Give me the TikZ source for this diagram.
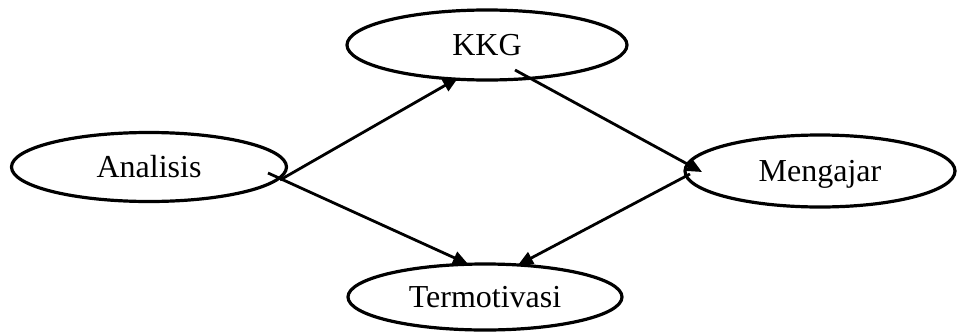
\documentclass[tikz,border=0pt]{standalone}
\usepackage{fontspec}
\setmainfont{Liberation Serif}
\usetikzlibrary{shapes.geometric,arrows.meta,calc}
\begin{document}
\begin{tikzpicture}[x=0.5pt,y=-0.5pt,
  ell/.style={draw, ellipse, line width=1.6pt, inner sep=0pt,
    font=\fontsize{16}{19}\selectfont, text height=10.6pt, text depth=0pt},
  arr/.style={line width=1.4pt, -{Triangle[length=7.5pt,width=6.5pt]}}]
\useasboundingbox (0,0) rectangle (957,332);
\node[ell, minimum width=137.5pt, minimum height=34.5pt] (ana) at (149,167) {Analisis};
\node[ell, minimum width=140pt, minimum height=35pt] (kkg) at (487,45) {KKG};
\node[ell, minimum width=135pt, minimum height=36pt] (men) at (820,171) {Mengajar};
\node[ell, minimum width=137pt, minimum height=33pt] (ter) at (485,297) {Termotivasi};
\draw[arr] ($(ana.center)+(131,13)$) -- ($(kkg.center)+(-29,33)$);
\draw[arr] ($(ana.center)+(119,6)$) -- ($(ter.center)+(-17,-33)$);
\draw[arr] ($(kkg.center)+(28,25)$) -- ($(men.center)+(-118,1)$);
\draw[arr] ($(men.center)+(-130,3)$) -- ($(ter.center)+(33,-32)$);
\end{tikzpicture}
\end{document}
